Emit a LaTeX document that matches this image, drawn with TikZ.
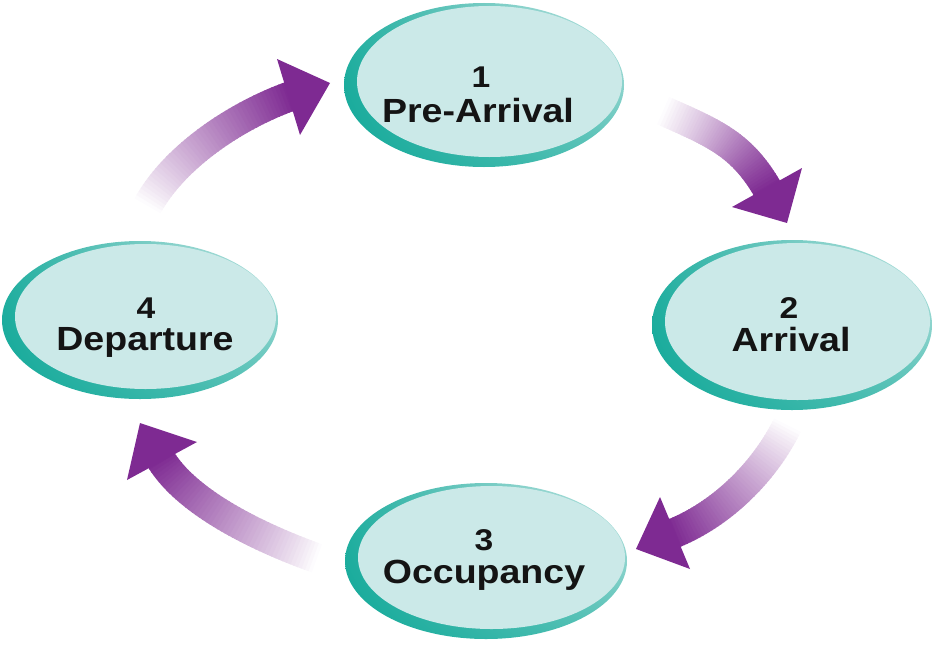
\documentclass[tikz,border=0pt]{standalone}
\usepackage{fontspec}
\newfontfamily\lblfont{Liberation Sans}[FakeStretch=1.12]
\usetikzlibrary{shapes.geometric,shadings}
\definecolor{rimdark}{RGB}{16,168,152}
\definecolor{rimlight}{RGB}{196,230,228}
\definecolor{fillc}{RGB}{203,233,232}
\definecolor{arrowc}{RGB}{126,42,146}
\definecolor{textc}{RGB}{20,20,20}
\begin{document}
\begin{tikzpicture}[x=1pt,y=-1pt,
  stage/.style={ellipse, inner sep=0pt, shade,
    lower left=rimdark, upper left=rimdark!90!white,
    lower right=rimdark!72!white, upper right=rimlight},
  innerfill/.style={fill=fillc},
  lbl/.style={font=\lblfont\bfseries\fontsize{33.5}{36}\selectfont, text=textc, inner sep=0pt, anchor=base},
  numlbl/.style={lbl, font=\lblfont\bfseries\fontsize{30}{34}\selectfont},
  shaft/.style={line width=30pt, line cap=butt, shorten <=-1pt},
  headfill/.style={fill=arrowc}]
\useasboundingbox (0,0) rectangle (933,661);

% stages
\node[stage, minimum width=280pt, minimum height=164pt] (e1) at (484,85) {};
\fill[innerfill] (489.5,81.5) ellipse [x radius=132.5pt, y radius=75.5pt];
\node[stage, minimum width=280pt, minimum height=170pt] (e2) at (792,325) {};
\fill[innerfill] (797.5,321.5) ellipse [x radius=132.5pt, y radius=78.5pt];
\node[stage, minimum width=282pt, minimum height=156pt] (e3) at (486,561) {};
\fill[innerfill] (491.5,557.5) ellipse [x radius=133.5pt, y radius=71.5pt];
\node[stage, minimum width=276pt, minimum height=158pt] (e4) at (140,320) {};
\fill[innerfill] (145.5,316.5) ellipse [x radius=130.5pt, y radius=72.5pt];

% arrow geometry
\coordinate (a1t) at (148,205);   \coordinate (a1c1) at (176,155);
\coordinate (a1c2) at (238,115);  \coordinate (a1e) at (291,96);
\coordinate (a1tip) at (330,83);  \coordinate (a1l) at (277,59);  \coordinate (a1r) at (300,135);

\coordinate (a2t) at (664,111);   \coordinate (a2c1) at (716,134);
\coordinate (a2c2) at (742,145);  \coordinate (a2e) at (768,190);
\coordinate (a2tip) at (787,223); \coordinate (a2l) at (802,168); \coordinate (a2r) at (732,207);

\coordinate (a3t) at (787,426);   \coordinate (a3c1) at (763,474);
\coordinate (a3c2) at (720,515);  \coordinate (a3e) at (672,534);
\coordinate (a3tip) at (636,549); \coordinate (a3l) at (660,497); \coordinate (a3r) at (690,569);

\coordinate (a4t) at (316,558);   \coordinate (a4c1) at (263,539);
\coordinate (a4c2) at (187,504);  \coordinate (a4e) at (160,458);
\coordinate (a4tip) at (140,423); \coordinate (a4l) at (197,442); \coordinate (a4r) at (127,480);

\foreach \a in {a1,a2,a3,a4}{
  \foreach \i in {0,...,48}{
    \path (\a t) .. controls (\a c1) and (\a c2) .. (\a e) coordinate[pos=\i/48] (\a p\i);
  }
  \foreach \i in {0,...,47}{
    \pgfmathtruncatemacro\nxt{\i+1}
    \pgfmathsetmacro\pct{100*((\i+0.5)/48)^0.95}
    \draw[shaft, draw=arrowc!\pct!white] (\a p\i) -- (\a p\nxt);
  }
  \fill[headfill] (\a l) -- (\a tip) -- (\a r) -- cycle;
}

% labels
\node[numlbl] (n1) at (481,87) {1};
\node[lbl] (t1) at (478,122) {Pre-Arrival};
\node[numlbl] (n2) at (789,318) {2};
\node[lbl] (t2) at (791,351) {Arrival};
\node[numlbl] (n3) at (484,550) {3};
\node[lbl] (t3) at (484,583) {Occupancy};
\node[numlbl] (n4) at (146,318) {4};
\node[lbl] (t4) at (145,350) {Departure};
\end{tikzpicture}
\end{document}
